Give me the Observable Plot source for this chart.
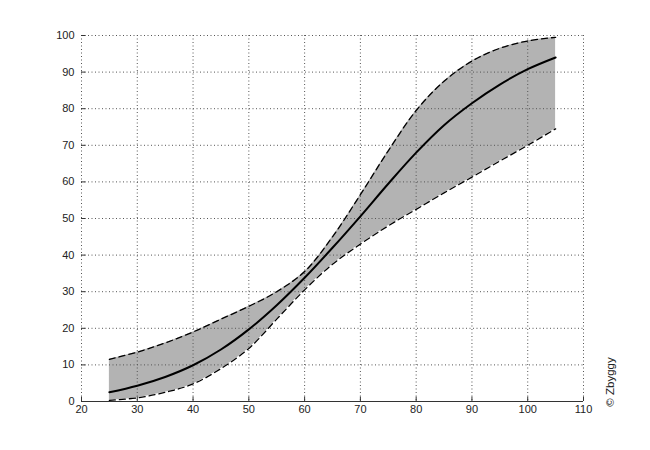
<!DOCTYPE html>
<html>
<head>
<meta charset="utf-8">
<script src="https://cdn.jsdelivr.net/npm/d3@7"></script>
<script src="https://cdn.jsdelivr.net/npm/@observablehq/plot@0.6"></script>
<style>
  body { margin: 0; background: #fff; }
  #chart { position: relative; width: 650px; height: 450px; }
  #credit {
    position: absolute; left: 610px; top: 382px;
    transform: translate(-50%, -50%) rotate(-90deg);
    font: 11.5px "Liberation Sans", Arial, sans-serif; color: #222; white-space: nowrap;
  }
</style>
</head>
<body>
<div id="chart"><div id="credit">© Zbyggy</div></div>
<script>
const xs     = [25, 30, 35, 40, 45, 50, 55, 60, 65, 70, 75, 80, 85, 90, 95, 100, 105];
const middle = [2.5, 4.3, 6.7, 9.9, 14.2, 19.7, 26.3, 33.8, 42, 50.6, 59.5, 68, 75.5, 81.5, 86.6, 90.8, 94];
const upper  = [11.5, 13.5, 16, 19, 22.5, 26, 30, 35.5, 45, 56.5, 68.5, 79.5, 87.5, 93, 96.5, 98.5, 99.5];
const lower  = [0.3, 1, 2.5, 4.8, 9, 14.5, 22.5, 30.5, 37.5, 43, 48, 52.5, 57, 61.3, 65.7, 70, 74.5];
const xTicks = d3.range(20, 111, 10);
const yTicks = d3.range(0, 101, 10);

const rows = xs.map((x, i) => ({x, mid: middle[i], hi: upper[i], lo: lower[i]}));

const grid = {stroke: "#555", strokeOpacity: 1, strokeWidth: 1, strokeDasharray: "1,2.5"};

const chart = Plot.plot({
  width: 650,
  height: 450,
  marginLeft: 81,
  marginRight: 67,
  marginTop: 35,
  marginBottom: 49,
  style: {fontFamily: "'Liberation Sans', Arial, sans-serif", fontSize: "11px", color: "#222", background: "#fff"},
  x: {domain: [20, 110]},
  y: {domain: [0, 100]},
  marks: [
    Plot.areaY(rows, {x: "x", y1: "lo", y2: "hi", fill: "#b3b3b3", curve: "catmull-rom"}),
    Plot.ruleX(xTicks, {...grid}),
    Plot.ruleY(yTicks.filter(d => d > 0), {...grid}),
    Plot.lineY(rows, {x: "x", y: "hi", stroke: "#000", strokeWidth: 1.3, strokeDasharray: "6,4", curve: "catmull-rom"}),
    Plot.lineY(rows, {x: "x", y: "lo", stroke: "#000", strokeWidth: 1.3, strokeDasharray: "6,4", curve: "catmull-rom"}),
    Plot.lineY(rows, {x: "x", y: "mid", stroke: "#000", strokeWidth: 2, curve: "catmull-rom"}),
    Plot.ruleY([0], {stroke: "#333", strokeWidth: 1}),
    Plot.ruleX(xTicks, {y1: 0, y2: 1.2, stroke: "#333"}),
    Plot.ruleY(yTicks, {x1: 20, x2: 20.8, stroke: "#333"}),
    Plot.axisX(xTicks, {tickSize: 0, tickPadding: 4, label: null}),
    Plot.axisY(yTicks, {tickSize: 0, tickPadding: 7, label: null})
  ]
});

document.getElementById("chart").prepend(chart);
</script>
</body>
</html>
